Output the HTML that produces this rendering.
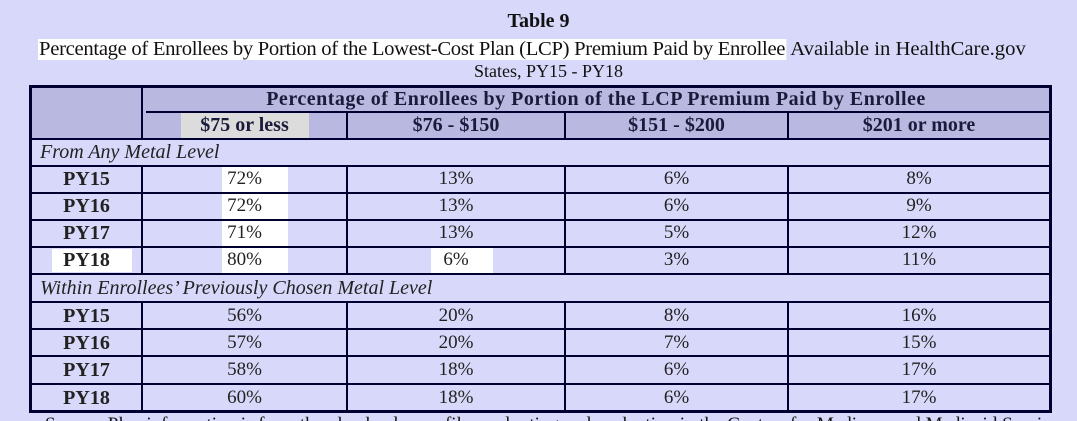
<!DOCTYPE html>
<html><head><style>
html,body{margin:0;width:1077px;height:421px;overflow:hidden;}
body{background:#d8d8fa;position:relative;font-family:"Liberation Serif",serif;color:#111;}
.a{position:absolute;}
.t{position:absolute;text-align:center;white-space:nowrap;}
.h{position:absolute;background:#000030;}
.w{position:absolute;background:#fff;}
.g{position:absolute;background:#dcdcdc;}
</style></head><body>
<div class="t" style="left:0;width:1077px;top:10px;font-weight:bold;font-size:20px;">Table 9</div>
<div class="a" style="left:38px;top:37px;font-family:'Liberation Serif',serif;font-size:19.5px;white-space:nowrap;transform-origin:0 0;transform:scaleX(1.06);line-height:26px;"><span style="background:#fff;padding:0 1px;letter-spacing:-0.3px;">Percentage of Enrollees by Portion of the Lowest-Cost Plan (LCP) Premium Paid by Enrollee</span> Available in HealthCare.gov</div>
<div class="t" style="left:0;width:1097px;top:61px;font-size:18px;">States, PY15 - PY18</div>

<div class="a" style="left:30px;top:86px;width:1020px;height:53px;background:#b8b8e0;"></div>
<div class="g" style="left:181px;top:113px;width:128px;height:25px;"></div>
<div class="w" style="left:222px;top:167px;width:66px;height:25px;"></div>
<div class="w" style="left:222px;top:194px;width:66px;height:25px;"></div>
<div class="w" style="left:222px;top:221px;width:66px;height:25px;"></div>
<div class="w" style="left:222px;top:248px;width:66px;height:25px;"></div>
<div class="w" style="left:431px;top:248px;width:62px;height:25px;"></div>
<div class="w" style="left:52px;top:249px;width:80px;height:23px;"></div>

<div class="h" style="left:30px;top:85px;width:1022px;height:3px;"></div>
<div class="h" style="left:146px;top:111px;width:906px;height:2px;"></div>
<div class="h" style="left:30px;top:138px;width:1022px;height:2px;"></div>
<div class="h" style="left:30px;top:165px;width:1022px;height:2px;"></div>
<div class="h" style="left:30px;top:192px;width:1022px;height:2px;"></div>
<div class="h" style="left:30px;top:219px;width:1022px;height:2px;"></div>
<div class="h" style="left:30px;top:246px;width:1022px;height:2px;"></div>
<div class="h" style="left:30px;top:273px;width:1022px;height:2px;"></div>
<div class="h" style="left:30px;top:301px;width:1022px;height:2px;"></div>
<div class="h" style="left:30px;top:328px;width:1022px;height:2px;"></div>
<div class="h" style="left:30px;top:355px;width:1022px;height:2px;"></div>
<div class="h" style="left:30px;top:383px;width:1022px;height:2px;"></div>
<div class="h" style="left:30px;top:410px;width:1022px;height:3px;"></div>
<div class="h" style="left:29px;top:85px;width:3px;height:328px;"></div>
<div class="h" style="left:1049px;top:85px;width:3px;height:328px;"></div>
<div class="h" style="left:141px;top:85px;width:2px;height:54px;"></div>
<div class="h" style="left:346px;top:111px;width:2px;height:28px;"></div>
<div class="h" style="left:564px;top:111px;width:2px;height:28px;"></div>
<div class="h" style="left:787px;top:111px;width:2px;height:28px;"></div>
<div class="h" style="left:141px;top:165px;width:2px;height:110px;"></div>
<div class="h" style="left:346px;top:165px;width:2px;height:110px;"></div>
<div class="h" style="left:564px;top:165px;width:2px;height:110px;"></div>
<div class="h" style="left:787px;top:165px;width:2px;height:110px;"></div>
<div class="h" style="left:141px;top:301px;width:2px;height:110px;"></div>
<div class="h" style="left:346px;top:301px;width:2px;height:110px;"></div>
<div class="h" style="left:564px;top:301px;width:2px;height:110px;"></div>
<div class="h" style="left:787px;top:301px;width:2px;height:110px;"></div>

<div class="t" style="left:143px;width:906px;top:88px;font-weight:bold;font-size:20px;letter-spacing:0.5px;color:#1a1a3a;">Percentage of Enrollees by Portion of the LCP Premium Paid by Enrollee</div>
<div class="t" style="left:143px;width:203px;top:114px;font-weight:bold;font-size:20px;color:#1a1a3a;">$75 or less</div>
<div class="t" style="left:348px;width:216px;top:114px;font-weight:bold;font-size:20px;color:#1a1a3a;">$76 - $150</div>
<div class="t" style="left:566px;width:221px;top:114px;font-weight:bold;font-size:20px;color:#1a1a3a;">$151 - $200</div>
<div class="t" style="left:789px;width:260px;top:114px;font-weight:bold;font-size:20px;color:#1a1a3a;">$201 or more</div>

<div class="a" style="left:40px;top:141px;font-style:italic;font-size:20px;color:#222;">From Any Metal Level</div>
<div class="a" style="left:40px;top:277px;font-style:italic;font-size:20px;color:#222;">Within Enrollees’ Previously Chosen Metal Level</div>

<div id="rows"></div>
<script>
var rows=[[167,"PY15","72%","13%","6%","8%"],[194,"PY16","72%","13%","6%","9%"],[221,"PY17","71%","13%","5%","12%"],[248,"PY18","80%","6%","3%","11%"],
[304,"PY15","56%","20%","8%","16%"],[331,"PY16","57%","20%","7%","15%"],[358,"PY17","58%","18%","6%","17%"],[386,"PY18","60%","18%","6%","17%"]];
var cols=[[32,109],[143,203],[348,216],[566,221],[789,260]];
var h="";
rows.forEach(function(r){for(var i=0;i<5;i++){h+='<div class="t" style="left:'+cols[i][0]+'px;width:'+cols[i][1]+'px;top:'+(r[0]+1)+'px;font-size:'+(i==0?'20px;font-weight:bold':'19px')+';color:#222;">'+r[i+1]+'</div>';}});
document.getElementById("rows").innerHTML=h;
</script>
<div class="a" style="left:45px;top:414px;font-size:19px;white-space:nowrap;">Source: Plan information is from the plan landscape files and rating and evaluation in the Centers for Medicare and Medicaid Services</div>
</body></html>
